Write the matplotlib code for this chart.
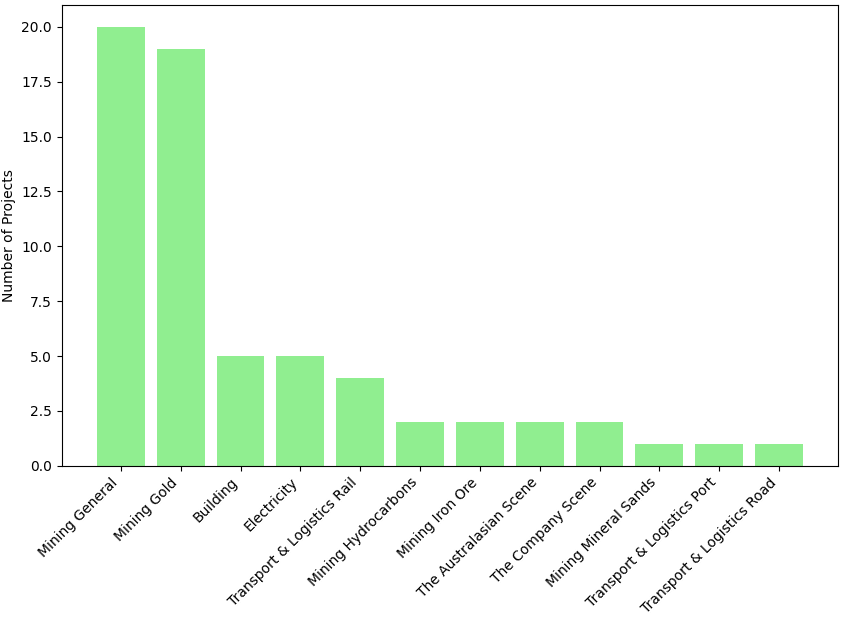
import matplotlib
matplotlib.use("Agg")
import matplotlib.pyplot as plt

categories = ["Mining General", "Mining Gold", "Building", "Electricity",
              "Transport & Logistics Rail", "Mining Hydrocarbons", "Mining Iron Ore",
              "The Australasian Scene", "The Company Scene", "Mining Mineral Sands",
              "Transport & Logistics Port", "Transport & Logistics Road"]
counts = [20, 19, 5, 5, 4, 2, 2, 2, 2, 1, 1, 1]

fig = plt.figure(figsize=(8.45, 6.21), dpi=100)
ax = fig.add_axes([0.073, 0.250, 0.919, 0.742])
ax.bar(categories, counts, color="lightgreen")
ax.set_ylabel("Number of Projects")
ax.set_xticks(range(len(categories)))
ax.set_xticklabels(categories, rotation=45, ha="right")
fig.savefig("out.png", dpi=100)
